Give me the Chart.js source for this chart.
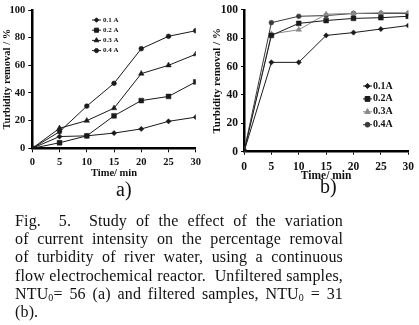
<!DOCTYPE html>
<html><head><meta charset="utf-8">
<script src="https://cdn.jsdelivr.net/npm/chart.js@4.4.0/dist/chart.umd.min.js"></script>
<style>
html,body{margin:0;padding:0;background:#fff;width:419px;height:325px;overflow:hidden;}
canvas{position:absolute;}
.lab{position:absolute;font-family:"Liberation Serif",serif;font-size:20px;color:#111;}
#cap{position:absolute;left:15px;top:212px;width:328px;font-family:"Liberation Serif",serif;font-size:16px;letter-spacing:0.15px;line-height:18.2px;color:#111;}
#cap div{text-align:justify;text-align-last:justify;white-space:nowrap;}
#cap div.last{text-align-last:left;}
sub{font-size:10px;vertical-align:-2px;line-height:0;}
</style></head><body>
<canvas id="ca" width="205" height="180" style="left:0;top:0"></canvas>
<canvas id="cb" width="214" height="185" style="left:205px;top:0"></canvas>
<div class="lab" style="left:116px;top:178px">a)</div>
<div class="lab" style="left:320px;top:175px">b)</div>
<div id="cap">
<div>Fig.&nbsp; 5.&nbsp; Study of the effect of the variation</div>
<div>of current intensity on the percentage removal</div>
<div>of turbidity of river water, using a continuous</div>
<div>flow electrochemical reactor.&nbsp; Unfiltered samples,</div>
<div>NTU<sub>0</sub>= 56 (a) and filtered samples, NTU<sub>0</sub> = 31</div>
<div class="last">(b).</div>
</div>
<script>
const times = [0, 5, 10, 15, 20, 25, 30];
const seriesLabelsA = ['0.1 A', '0.2 A', '0.3 A', '0.4 A'];
const seriesLabelsB = ['0.1A', '0.2A', '0.3A', '0.4A'];
// Chart a) unfiltered samples
const a01 = [0, 8.5, 9, 11, 14, 19.5, 22.5];
const a02 = [0, 4, 9, 23.5, 34.5, 37.5, 48];
const a03 = [0, 14.5, 20, 29, 54, 60, 68];
const a04 = [0, 12, 30.5, 47, 72, 81, 85];
// Chart b) filtered samples
const b01 = [0, 63, 63, 82, 84, 86.5, 89];
const b02 = [0, 82, 90.5, 92.5, 94, 94.5, 95.5];
const b03 = [0, 83, 86, 97, 97.5, 98, 98];
const b04 = [0, 91, 95.5, 96, 97.5, 97.5, 97.5];
const yTicks = [0,10,20,30,40,50,60,70,80,90,100];
const xTicks = [0,5,10,15,20,25,30];

const styles = [
  {pointStyle:'rectRot', pointRadius:2.6},
  {pointStyle:'rect', pointRadius:3.4},
  {pointStyle:'triangle', pointRadius:3.2},
  {pointStyle:'circle', pointRadius:2.4}
];
const SERIF = '"Liberation Serif", "Times New Roman", serif';

function pts(vals){ return times.map((t,i)=>({x:t,y:vals[i]})); }

function makeDatasets(arrs, labels, colors){
  return arrs.map((v,i)=>({
    label: labels[i], data: pts(v),
    borderColor: colors[i], backgroundColor: colors[i],
    pointBackgroundColor: colors[i], pointBorderColor: colors[i],
    borderWidth: 1, pointBorderWidth: 0.5,
    pointStyle: styles[i].pointStyle, pointRadius: styles[i].pointRadius,
    tension: 0, fill:false
  }));
}

function legendPlugin(cfg){
  return {
    id:'customLegend',
    afterDatasetsDraw(chart){
      const ctx = chart.ctx;
      ctx.save();
      chart.data.datasets.forEach((ds,i)=>{
        const y = cfg.y0 + i*cfg.dy;
        ctx.strokeStyle = ds.borderColor; ctx.lineWidth = 1;
        ctx.beginPath(); ctx.moveTo(cfg.x0, y); ctx.lineTo(cfg.x1, y); ctx.stroke();
        ctx.fillStyle = ds.pointBackgroundColor; ctx.strokeStyle = ds.pointBorderColor;
        Chart.helpers.drawPoint(ctx, {pointStyle: ds.pointStyle, radius: ds.pointRadius*cfg.scale, rotation:0, borderWidth:0.5}, (cfg.x0+cfg.x1)/2, y);
        ctx.fillStyle = '#111';
        ctx.font = 'bold ' + cfg.fs + 'px ' + SERIF;
        ctx.textBaseline = 'middle'; ctx.textAlign = 'left';
        ctx.fillText(ds.label, cfg.x1 + cfg.gap, y);
      });
      ctx.restore();
    }
  };
}

function makeOptions(o){
  return {
    responsive:false, animation:false, devicePixelRatio:1,
    layout:{padding:{top:o.top, right:o.right, left:0, bottom:0}},
    plugins:{legend:{display:false}, tooltip:{enabled:false}},
    scales:{
      x:{type:'linear', min:0, max:30,
        afterBuildTicks:(s)=>{s.ticks = xTicks.map(v=>({value:v}));},
        afterFit:(s)=>{s.height = o.xh;},
        grid:{display:true, drawOnChartArea:false, drawTicks:true, tickLength:o.tl, tickColor:'#000', tickWidth:1},
        border:{display:true, color:'#000', width:2.5},
        ticks:{color:'#111', padding:o.xpad, maxRotation:0, font:{family:SERIF, size:o.tfs, weight:'bold'}},
        title:{display:true, text:'Time/ min', color:'#111', padding:{top:0,bottom:o.xtb}, font:{family:SERIF, size:o.xtfs, weight:'bold'}}
      },
      y:{type:'linear', min:0, max:100,
        afterBuildTicks:(s)=>{s.ticks = yTicks.map(v=>({value:v}));},
        afterFit:(s)=>{s.width = o.yw;},
        grid:{display:true, drawOnChartArea:false, drawTicks:true, tickLength:o.tl, tickColor:'#000', tickWidth:1},
        border:{display:true, color:'#000', width:2.5},
        ticks:{color:'#111', padding:3, font:{family:SERIF, size:o.tfs, weight:'bold'}},
        title:{display:true, text:'Turbidity removal / %', color:'#111', padding:{top:o.ytp,bottom:0}, font:{family:SERIF, size:o.ytfs, weight:'bold'}}
      }
    }
  };
}

const colA = ['#1a1a1a','#1a1a1a','#1a1a1a','#1a1a1a'];
new Chart(document.getElementById('ca'), {
  type:'line',
  data:{datasets: makeDatasets([a01,a02,a03,a04], seriesLabelsA, colA)},
  options: makeOptions({top:10, right:7.7, xh:31.7, yw:32.3, tl:4, xpad:4, tfs:10.5, xtfs:10.5, xtb:0, ytp:1, ytfs:10.5}),
  plugins:[legendPlugin({x0:92, x1:101, y0:20, dy:10.2, fs:7, gap:2, scale:0.85})]
});

const colB = ['#1a1a1a','#1a1a1a','#8a8a8a','#3a3a3a'];
new Chart(document.getElementById('cb'), {
  type:'line',
  data:{datasets: makeDatasets([b01,b02,b03,b04], seriesLabelsB, colB)},
  options: makeOptions({top:8.7, right:10, xh:33.3, yw:39, tl:3, xpad:5, tfs:11.5, xtfs:11.5, xtb:2.5, ytp:6, ytfs:11}),
  plugins:[legendPlugin({x0:158, x1:167, y0:86, dy:12.9, fs:10, gap:1, scale:1})]
});
</script>
</body></html>
